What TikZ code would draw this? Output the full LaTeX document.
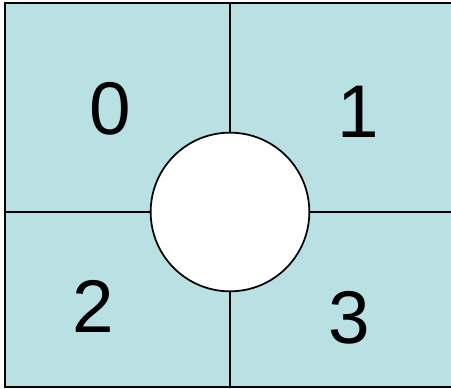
\documentclass[tikz,border=0pt]{standalone}
\usepackage{fontspec}
\setmainfont{Liberation Sans}
\usepackage{tikz}
\usetikzlibrary{positioning}
\definecolor{quadcyan}{HTML}{B9E0E3}

\begin{document}
\begin{tikzpicture}[x=0.75pt, y=-0.75pt,
  quad/.style={font=\fontsize{56}{56}\selectfont, text=black, inner sep=0pt},
  hole/.style={circle, draw=black, line width=1.3pt, fill=white,
    minimum size=119pt, inner sep=0pt},
  split/.style={draw=black, line width=1.1pt},
  frame/.style={draw=black, line width=2.2pt}]
  \useasboundingbox (0,0) rectangle (451,389);
  \fill[quadcyan] (5,3) rectangle (451,387);
  % ends of the dividing lines
  \coordinate (t) at (230,3);
  \coordinate (b) at (230,387);
  \coordinate (l) at (5,212);
  \coordinate (r) at (451,212);
  \node[hole] (hole) at (230,212) {};
  \draw[split] (t) -- (hole.north);
  \draw[split] (hole.south) -- (b);
  \draw[split] (l) -- (hole.west);
  \draw[split] (hole.east) -- (r);
  \draw[frame] (452,3) -- (5,3) -- (5,387) -- (452,387);
  \node[quad] (q0) at (110,109) {0};
  \node[quad] (q1) at (358,112) {1};
  \node[quad] (q2) at (93,306) {2};
  \node[quad] (q3) at (349,318) {3};
\end{tikzpicture}
\end{document}
